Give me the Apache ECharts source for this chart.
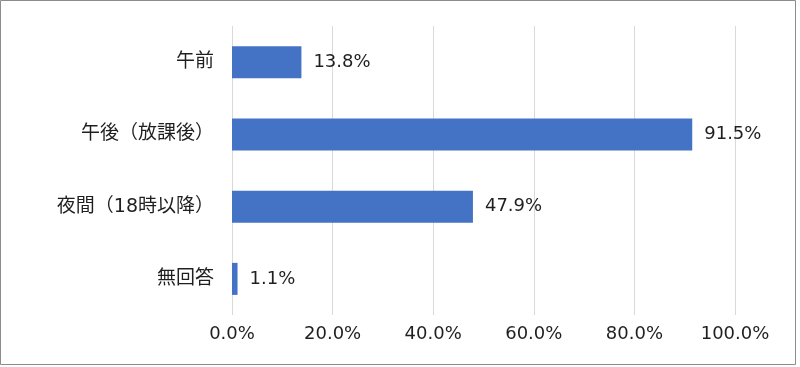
<!DOCTYPE html>
<html>
<head>
<meta charset="utf-8">
<script src="https://cdn.jsdelivr.net/npm/echarts@6/dist/echarts.min.js"></script>
<style>
html,body{margin:0;padding:0;background:#fff;}
#chart{width:800px;height:367px;}
</style>
</head>
<body>
<div id="chart"></div>
<script>
const categories = ['午前', '午後（放課後）', '夜間（18時以降）', '無回答'];
const values = [13.8, 91.5, 47.9, 1.1];
const xTicks = [0, 20, 40, 60, 80, 100];

const FONT = '"DejaVu Sans", "Noto Sans CJK JP", sans-serif';
const chart = echarts.init(document.getElementById('chart'), null, {renderer: 'canvas'});
chart.setOption({
  animation: false,
  backgroundColor: '#ffffff',
  graphic: [{
    type: 'rect',
    shape: {x: 0.5, y: 0.5, width: 795, height: 364},
    style: {fill: 'none', stroke: '#8c8c8c', lineWidth: 1},
    silent: true
  }],
  grid: {left: 232, right: 65, top: 26, bottom: 52, containLabel: false},
  xAxis: {
    type: 'value',
    min: xTicks[0],
    max: xTicks[xTicks.length - 1],
    interval: xTicks[1] - xTicks[0],
    axisLine: {show: false},
    axisTick: {show: false},
    splitLine: {show: true, lineStyle: {color: '#d9d9d9', width: 1}},
    axisLabel: {
      margin: 10,
      color: '#1f1f1f',
      fontFamily: FONT,
      fontSize: 18,
      formatter: v => v.toFixed(1) + '%'
    }
  },
  yAxis: {
    type: 'category',
    data: categories,
    inverse: true,
    axisLine: {show: false},
    axisTick: {show: false},
    splitLine: {show: false},
    axisLabel: {
      margin: 18,
      color: '#1f1f1f',
      fontFamily: FONT,
      fontSize: 19
    }
  },
  series: [{
    type: 'bar',
    data: values,
    barWidth: 32,
    itemStyle: {color: '#4472C4'},
    label: {
      show: true,
      position: 'right',
      distance: 12,
      color: '#1f1f1f',
      fontFamily: FONT,
      fontSize: 18,
      formatter: p => p.value.toFixed(1) + '%'
    }
  }]
});
</script>
</body>
</html>
